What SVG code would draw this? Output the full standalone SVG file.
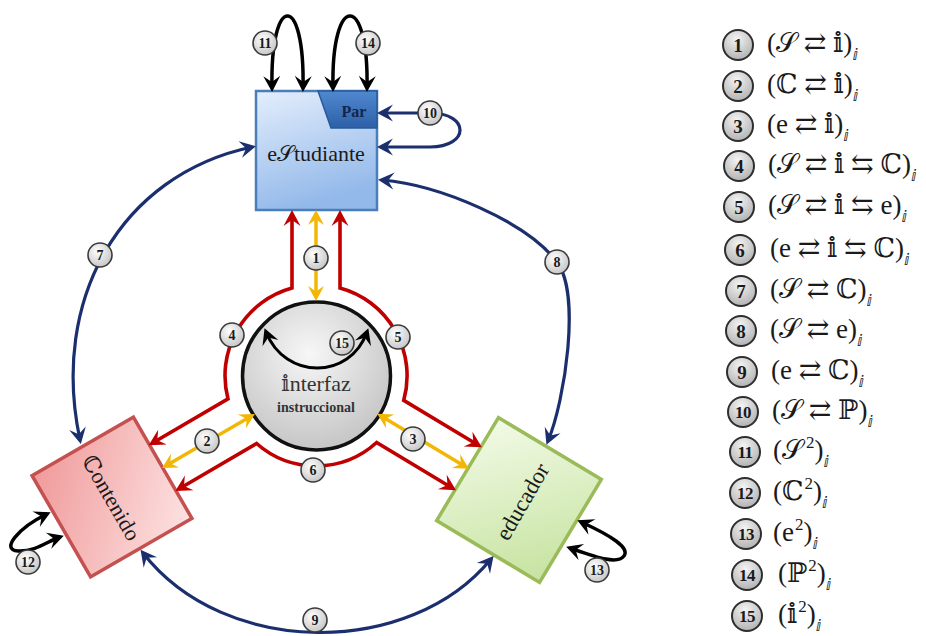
<svg xmlns="http://www.w3.org/2000/svg" width="926" height="636" viewBox="0 0 926 636">
<style>
text{font-family:"Liberation Serif","DejaVu Serif","DejaVu Sans",serif;fill:#1a1a1a}
.red{fill:none;stroke:#c00000;stroke-width:3.6;marker-start:url(#mR);marker-end:url(#mR)}
.blue{fill:none;stroke:#1b2f6e;stroke-width:3.2;marker-start:url(#mB);marker-end:url(#mB)}
.blk{fill:none;stroke:#000;stroke-width:3.5;marker-start:url(#mK);marker-end:url(#mK)}
.yel{fill:none;stroke:#f2b705;stroke-width:3.5;marker-start:url(#mY);marker-end:url(#mY)}
.lb circle{fill:url(#gL);stroke:#3a3a3a;stroke-width:1.6}
.lb text{font-size:14px;font-weight:bold;text-anchor:middle}
.lg circle{fill:url(#gL2);stroke:#2e2e2e;stroke-width:2}
.lg .n{font-size:19px;font-weight:bold;text-anchor:middle}
.lg .n2{font-size:17px;font-weight:bold;text-anchor:middle;letter-spacing:-0.5px}
.lt{font-size:27px}
.sub{font-size:16px;font-style:italic}
.sup{font-size:17px}
</style>
<defs>
<linearGradient id="gS" x1="0" y1="0" x2="0.3" y2="1"><stop offset="0" stop-color="#e4eefc"/><stop offset="1" stop-color="#93b9ea"/></linearGradient>
<linearGradient id="gP" x1="0" y1="0" x2="0" y2="1"><stop offset="0" stop-color="#5089d0"/><stop offset="1" stop-color="#2d60a6"/></linearGradient>
<linearGradient id="gC" x1="1" y1="0" x2="0" y2="1"><stop offset="0" stop-color="#fde2e2"/><stop offset="1" stop-color="#f09a9a"/></linearGradient>
<linearGradient id="gE" x1="0" y1="0" x2="1" y2="1"><stop offset="0" stop-color="#f2fae6"/><stop offset="1" stop-color="#c6e3a0"/></linearGradient>
<radialGradient id="gI" cx="0.45" cy="0.35" r="0.7"><stop offset="0" stop-color="#f7f7f7"/><stop offset="1" stop-color="#c2c2c2"/></radialGradient>
<radialGradient id="gL" cx="0.4" cy="0.35" r="0.75"><stop offset="0" stop-color="#ffffff"/><stop offset="1" stop-color="#bfbfbf"/></radialGradient>
<radialGradient id="gL2" cx="0.45" cy="0.3" r="0.8"><stop offset="0" stop-color="#f4f4f4"/><stop offset="1" stop-color="#a9a9a9"/></radialGradient>
<marker id="mR" viewBox="-14 -9 20 18" refX="0" refY="0" markerWidth="20" markerHeight="18" markerUnits="userSpaceOnUse" orient="auto-start-reverse"><path d="M4,0 L-12,-8.5 L-6,0 L-12,8.5 Z" fill="#c00000"/></marker>
<marker id="mB" viewBox="-14 -9 20 18" refX="0" refY="0" markerWidth="20" markerHeight="18" markerUnits="userSpaceOnUse" orient="auto-start-reverse"><path d="M4,0 L-12,-8.5 L-6,0 L-12,8.5 Z" fill="#1b2f6e"/></marker>
<marker id="mK" viewBox="-14 -9 20 18" refX="0" refY="0" markerWidth="20" markerHeight="18" markerUnits="userSpaceOnUse" orient="auto-start-reverse"><path d="M4,0 L-12,-8.5 L-6,0 L-12,8.5 Z" fill="#000"/></marker>
<marker id="mY" viewBox="-14 -9 20 18" refX="0" refY="0" markerWidth="20" markerHeight="18" markerUnits="userSpaceOnUse" orient="auto-start-reverse"><path d="M4,0 L-11,-8 L-5.5,0 L-11,8 Z" fill="#f2b705"/></marker>
</defs>

<g id="estudiante">
<rect x="256" y="91" width="121" height="119" fill="url(#gS)" stroke="#4a7ebb" stroke-width="2.5"/>
<polygon points="318,91 377,91 377,128 331,128" fill="url(#gP)" stroke="#2a5a9a" stroke-width="1.5"/>
<text x="354" y="117" font-size="16" font-weight="bold" text-anchor="middle" style="fill:#14244f">Par</text>
<text x="316" y="161" font-size="22" text-anchor="middle">e𝒮tudiante</text>
</g>

<g id="interfaz">
<circle cx="316.5" cy="376" r="74" fill="url(#gI)" stroke="#111" stroke-width="3.5"/>
<text x="316" y="391" font-size="22" text-anchor="middle" style="fill:#333">𝕚nterfaz</text>
<text x="316" y="412" font-size="14" font-weight="bold" text-anchor="middle" style="fill:#333">instruccional</text>
</g>

<g id="contenido">
<rect x="-58.5" y="-58.5" width="117" height="117" transform="translate(112,497) rotate(60)" fill="url(#gC)" stroke="#c4504f" stroke-width="3.5"/>
<text transform="translate(111,498) rotate(60)" y="7" font-size="22" text-anchor="middle">ℂontenido</text>
</g>

<g id="educador">
<rect x="-60" y="-60" width="120" height="120" transform="translate(519,500) rotate(31)" fill="url(#gE)" stroke="#9bbb59" stroke-width="3.5"/>
<text transform="translate(523,502) rotate(-60)" y="7" font-size="23" text-anchor="middle">educador</text>
</g>

<g id="connectors">
<path class="red" d="M292,214 L292,288 A91,91 0 0 0 228,398.9 L152.1,443.2"/>
<path class="red" d="M340,214 L340,288 A91,91 0 0 1 403.7,400.4 L478.4,445.3"/>
<path class="red" d="M178.8,489 L256.6,443.5 A90,90 0 0 0 376.6,442.5 L452.6,488.2"/>
<path class="yel" d="M316,214 L316,297"/>
<path class="yel" d="M165.5,466.1 L251.4,415.9"/>
<path class="yel" d="M465.5,466.8 L380.7,415.8"/>
<path class="blue" d="M252,147 C120,175 50,300 80,440"/>
<path class="blue" d="M382,180 C440,185 527,222 557,262 C581,294 565,400 548,441"/>
<path class="blue" d="M143,553 C225,658 410,658 491,559"/>
<path class="blue" d="M381,113 L430,113 C470,113 470,147 430,147 L381,147"/>
<path class="blk" d="M272,88 C270,-8 305,-8 303,88"/>
<path class="blk" d="M333,88 C331,-8 369,-8 367,88"/>
<path class="blk" d="M47,514 C18,528 0,550 18,551 C35,552 48,541 60,537"/>
<path class="blk" d="M581,522 C612,536 630,548 624,556 C617,565 596,557 570,548"/>
<path class="blk" style="stroke-width:3" d="M266,332 C285,380 350,380 367,332"/>
<g class="lb"><circle cx="316" cy="258" r="12"/><text x="316" y="263">1</text></g>
<g class="lb"><circle cx="207" cy="441" r="12"/><text x="207" y="446">2</text></g>
<g class="lb"><circle cx="413" cy="439" r="12"/><text x="413" y="444">3</text></g>
<g class="lb"><circle cx="232" cy="335" r="12"/><text x="232" y="340">4</text></g>
<g class="lb"><circle cx="398" cy="337" r="12"/><text x="398" y="342">5</text></g>
<g class="lb"><circle cx="313" cy="470" r="12"/><text x="313" y="475">6</text></g>
<g class="lb"><circle cx="100" cy="255" r="12"/><text x="100" y="260">7</text></g>
<g class="lb"><circle cx="557" cy="262" r="12"/><text x="557" y="267">8</text></g>
<g class="lb"><circle cx="315" cy="620" r="12"/><text x="315" y="625">9</text></g>
<g class="lb"><circle cx="430" cy="113" r="12"/><text x="430" y="118">10</text></g>
<g class="lb"><circle cx="265" cy="43" r="12"/><text x="265" y="48">11</text></g>
<g class="lb"><circle cx="28" cy="562" r="12"/><text x="28" y="567">12</text></g>
<g class="lb"><circle cx="597" cy="570" r="12"/><text x="597" y="575">13</text></g>
<g class="lb"><circle cx="368" cy="43" r="12"/><text x="368" y="48">14</text></g>
<g class="lb"><circle cx="342" cy="343" r="12"/><text x="342" y="348">15</text></g>
</g>

<g id="legend">
<g class="lg" id="leg1"><circle cx="738" cy="45" r="15"/><text class="n" x="738" y="52">1</text><text class="lt" x="767" y="52">(𝒮 ⇄ 𝕚)<tspan class="sub" dy="8">ⅈ</tspan></text></g>
<g class="lg" id="leg2"><circle cx="738" cy="86" r="15"/><text class="n" x="738" y="93">2</text><text class="lt" x="767" y="93">(ℂ ⇄ 𝕚)<tspan class="sub" dy="8">ⅈ</tspan></text></g>
<g class="lg" id="leg3"><circle cx="738" cy="126" r="15"/><text class="n" x="738" y="133">3</text><text class="lt" x="767" y="133">(e ⇄ 𝕚)<tspan class="sub" dy="8">ⅈ</tspan></text></g>
<g class="lg" id="leg4"><circle cx="739" cy="166" r="15"/><text class="n" x="739" y="173">4</text><text class="lt" x="768" y="173">(𝒮 ⇄ 𝕚 ⇆ ℂ)<tspan class="sub" dy="8">ⅈ</tspan></text></g>
<g class="lg" id="leg5"><circle cx="739" cy="207" r="15"/><text class="n" x="739" y="214">5</text><text class="lt" x="768" y="214">(𝒮 ⇄ 𝕚 ⇆ e)<tspan class="sub" dy="8">ⅈ</tspan></text></g>
<g class="lg" id="leg6"><circle cx="740" cy="250" r="15"/><text class="n" x="740" y="257">6</text><text class="lt" x="770" y="257">(e ⇄ 𝕚 ⇆ ℂ)<tspan class="sub" dy="8">ⅈ</tspan></text></g>
<g class="lg" id="leg7"><circle cx="741" cy="291" r="15"/><text class="n" x="741" y="298">7</text><text class="lt" x="770" y="298">(𝒮 ⇄ ℂ)<tspan class="sub" dy="8">ⅈ</tspan></text></g>
<g class="lg" id="leg8"><circle cx="741" cy="331" r="15"/><text class="n" x="741" y="338">8</text><text class="lt" x="770" y="338">(𝒮 ⇄ e)<tspan class="sub" dy="8">ⅈ</tspan></text></g>
<g class="lg" id="leg9"><circle cx="742" cy="372" r="15"/><text class="n" x="742" y="379">9</text><text class="lt" x="771" y="379">(e ⇄ ℂ)<tspan class="sub" dy="8">ⅈ</tspan></text></g>
<g class="lg" id="leg10"><circle cx="743" cy="412" r="15"/><text class="n2" x="743" y="418">10</text><text class="lt" x="772" y="419">(𝒮 ⇄ ℙ)<tspan class="sub" dy="8">ⅈ</tspan></text></g>
<g class="lg" id="leg11"><circle cx="745" cy="452" r="15"/><text class="n2" x="745" y="458">11</text><text class="lt" x="773" y="459">(𝒮<tspan class="sup" dx="3" dy="-11">2</tspan><tspan dy="11">)</tspan><tspan class="sub" dy="8">ⅈ</tspan></text></g>
<g class="lg" id="leg12"><circle cx="745" cy="493" r="15"/><text class="n2" x="745" y="499">12</text><text class="lt" x="773" y="500">(ℂ<tspan class="sup" dx="1" dy="-11">2</tspan><tspan dy="11">)</tspan><tspan class="sub" dy="8">ⅈ</tspan></text></g>
<g class="lg" id="leg13"><circle cx="746" cy="534" r="15"/><text class="n2" x="746" y="540">13</text><text class="lt" x="773" y="541">(e<tspan class="sup" dx="1" dy="-11">2</tspan><tspan dy="11">)</tspan><tspan class="sub" dy="8">ⅈ</tspan></text></g>
<g class="lg" id="leg14"><circle cx="747" cy="575" r="15"/><text class="n2" x="747" y="581">14</text><text class="lt" x="778" y="582">(ℙ<tspan class="sup" dx="1" dy="-11">2</tspan><tspan dy="11">)</tspan><tspan class="sub" dy="8">ⅈ</tspan></text></g>
<g class="lg" id="leg15"><circle cx="747" cy="616" r="15"/><text class="n2" x="747" y="622">15</text><text class="lt" x="778" y="623">(𝕚<tspan class="sup" dx="1" dy="-11">2</tspan><tspan dy="11">)</tspan><tspan class="sub" dy="8">ⅈ</tspan></text></g>
</g>
</svg>
